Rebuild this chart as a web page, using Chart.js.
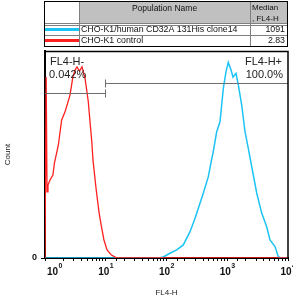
<!DOCTYPE html>
<html>
<head>
<meta charset="utf-8">
<script src="https://cdn.jsdelivr.net/npm/chart.js@4"></script>
<style>
  html, body { margin: 0; padding: 0; background: #fff; }
  canvas { display: block; }
</style>
</head>
<body>
<canvas id="histo" width="293" height="299"></canvas>
<script>
// FL4-H histogram data
const redX = [1, 1.045, 1.08, 1.12, 1.21, 1.35, 1.43, 1.66, 1.88, 2.13, 2.58, 2.86, 3.12, 3.36, 3.70, 4.06, 4.55, 5.16, 5.51, 5.9, 6.17, 6.91, 7.74, 8.51, 9.35, 10.5, 12.4, 14.8, 18.5, 10000];
const redY = [0, 87.4, 31.9, 35.3, 37.7, 40.1, 45.9, 54.6, 66.7, 70.5, 78.7, 87.0, 90.8, 92.3, 90.3, 92.3, 87.0, 75.5, 65.8, 56, 47.3, 33.8, 22.2, 15.0, 8.7, 3.9, 1.4, 0.2, 0, 0];
const blueX = [1, 72.4, 88.6, 114, 147, 189, 244, 295, 356, 403, 488, 550, 589, 670, 760, 862, 953, 1040, 1153, 1244, 1394, 1521, 1730, 1960, 2220, 2414, 3055, 3690, 4460, 5054, 6109, 6920, 7670, 10000];
const blueY = [0, 0, 0.5, 2.3, 3.9, 6.3, 12.7, 19.2, 26.4, 31.3, 39.3, 47.3, 51.4, 61.0, 65.8, 82.0, 89.9, 94.5, 90.8, 87.4, 89.2, 83.6, 73.9, 61.0, 53.0, 47.3, 31.4, 21.7, 15.1, 8.7, 5.5, 0.6, 0, 0];

// legend table
const popNames = ['CHO-K1/human CD32A 131His clone14', 'CHO-K1 control'];
const popMedians = ['1091', '2.83'];
const popColors = ['#1cc3f5', '#ff1f1f'];

// gates
const gateNames = ['FL4-H-', 'FL4-H+'];
const gatePcts = ['0.042%', '100.0%'];
const gateLo = [1, 9.72];
const gateHi = [9.72, 10000];
const gateLevel = [79.7, 84.5];

// axis labels
const decades = [1, 10, 100, 1000, 10000];
const decadeExp = ['0', '1', '2', '3', '4'];

const FONT = '"Liberation Sans", Arial, sans-serif';

function pts(xs, ys) {
    return xs.map((x, i) => ({ x: x, y: ys[i] }));
}

const tablePlugin = {
    id: 'popTable',
    afterDraw(chart) {
        const ctx = chart.ctx;
        const L = 44, c1 = 79, c2 = 250, R = 287;
        const rows = [1, 23, 35, 46];
        ctx.save();
        // header background
        ctx.fillStyle = '#c0c0c0';
        ctx.fillRect(c1, rows[0], R - c1, rows[1] - rows[0]);
        // inner lines
        ctx.strokeStyle = '#808080';
        ctx.lineWidth = 1;
        ctx.beginPath();
        [rows[1], rows[2]].forEach(y => { ctx.moveTo(L, y + 0.5); ctx.lineTo(R, y + 0.5); });
        ctx.moveTo(L, rows[1] + 2.5); ctx.lineTo(R, rows[1] + 2.5);
        [c1, c2].forEach(x => { ctx.moveTo(x + 0.5, rows[0]); ctx.lineTo(x + 0.5, rows[3]); });
        ctx.stroke();
        ctx.strokeStyle = '#000';
        ctx.strokeRect(L + 0.5, rows[0] + 0.5, R - L, rows[3] - rows[0]);

        // header text
        ctx.fillStyle = '#111';
        ctx.textBaseline = 'middle';
        ctx.font = '8.5px ' + FONT;
        ctx.textAlign = 'center';
        ctx.fillText('Population Name', (c1 + c2) / 2, 9);
        ctx.textAlign = 'left';
        ctx.font = '8px ' + FONT;
        ctx.fillText('Median', c2 + 2, 8);
        ctx.fillText(', FL4-H', c2 + 2, 19);

        // rows
        popNames.forEach((name, i) => {
            const yMid = i === 0 ? 30 : 41;
            ctx.strokeStyle = popColors[i];
            ctx.lineWidth = 3;
            ctx.beginPath();
            ctx.moveTo(L + 1, yMid - 0.5);
            ctx.lineTo(c1, yMid - 0.5);
            ctx.stroke();
            ctx.fillStyle = '#111';
            ctx.font = '8.8px ' + FONT;
            ctx.textAlign = 'left';
            ctx.fillText(name, c1 + 2, yMid);
            ctx.textAlign = 'right';
            ctx.fillText(popMedians[i], R - 2, yMid);
        });
        ctx.restore();
    }
};

const gatePlugin = {
    id: 'gates',
    afterDatasetsDraw(chart) {
        const ctx = chart.ctx;
        const xs = chart.scales.x, ys = chart.scales.y;
        const area = chart.chartArea;
        ctx.save();
        ctx.strokeStyle = '#6e6e6e';
        ctx.lineWidth = 1;
        gateNames.forEach((g, i) => {
            const x0 = xs.getPixelForValue(gateLo[i]);
            const x1 = xs.getPixelForValue(gateHi[i]);
            const y = Math.round(ys.getPixelForValue(gateLevel[i])) + 0.5;
            ctx.beginPath();
            ctx.moveTo(x0, y); ctx.lineTo(x1, y);
            const tx = Math.round(i === 0 ? x1 : x0) + 0.5;
            ctx.moveTo(tx, y - 4); ctx.lineTo(tx, y + 4);
            ctx.stroke();
        });
        // gate labels
        ctx.fillStyle = '#222';
        ctx.font = '11px ' + FONT;
        ctx.textBaseline = 'middle';
        ctx.textAlign = 'left';
        ctx.fillText(gateNames[0], area.left + 5, 62);
        ctx.fillText(gatePcts[0], area.left + 4, 75);
        ctx.textAlign = 'right';
        ctx.fillText(gateNames[1], area.right - 6, 62);
        ctx.fillText(gatePcts[1], area.right - 5, 75);

        // frame top / right
        ctx.strokeStyle = '#000';
        ctx.lineWidth = 1.5;
        ctx.beginPath();
        ctx.moveTo(area.left, area.top + 0.5);
        ctx.lineTo(area.right, area.top + 0.5);
        ctx.lineTo(area.right, area.bottom);
        ctx.stroke();
        ctx.restore();
    },
    afterDraw(chart) {
        // decade labels 10^n
        const ctx = chart.ctx;
        const xs = chart.scales.x;
        const area = chart.chartArea;
        ctx.save();
        ctx.fillStyle = '#111';
        ctx.textBaseline = 'middle';
        ctx.textAlign = 'left';
        decades.forEach((v, i) => {
            const px = xs.getPixelForValue(v);
            ctx.font = 'bold 10px ' + FONT;
            const wBase = ctx.measureText('10').width;
            ctx.font = 'bold 7px ' + FONT;
            const wExp = ctx.measureText(decadeExp[i]).width;
            let left = px - (wBase + wExp) / 2;
            if (left < area.left + 2) left = area.left + 2;
            ctx.font = 'bold 10px ' + FONT;
            ctx.fillText('10', left, 272);
            ctx.font = 'bold 7px ' + FONT;
            ctx.fillText(decadeExp[i], left + wBase + 0.5, 266);
        });
        ctx.restore();
    }
};

new Chart(document.getElementById('histo'), {
    type: 'line',
    data: {
        datasets: [
            {
                label: popNames[1],
                data: pts(redX, redY),
                borderColor: popColors[1],
                borderWidth: 1.3,
                pointRadius: 0,
                tension: 0,
                fill: false
            },
            {
                label: popNames[0],
                data: pts(blueX, blueY),
                borderColor: popColors[0],
                borderWidth: 1.5,
                pointRadius: 0,
                tension: 0,
                fill: false
            }
        ]
    },
    options: {
        responsive: false,
        animation: false,
        devicePixelRatio: 1,
        layout: { padding: { top: 51, right: 5, left: 0, bottom: 0 } },
        plugins: { legend: { display: false }, tooltip: { enabled: false } },
        scales: {
            x: {
                type: 'logarithmic',
                min: 1,
                max: 10000,
                afterFit: s => { s.height = 41; },
                grid: { drawOnChartArea: false, drawTicks: true, tickLength: 3, color: '#000', lineWidth: 1 },
                border: { display: true, color: '#000', width: 2 },
                ticks: { display: false },
                title: {
                    display: true,
                    text: 'FL4-H',
                    color: '#222',
                    font: { family: FONT, size: 8 },
                    padding: { top: 0, bottom: 1.2 }
                }
            },
            y: {
                type: 'linear',
                min: 0,
                max: 100,
                afterFit: s => { s.width = 45; },
                afterBuildTicks: s => { s.ticks = [{ value: 0 }]; },
                grid: { drawOnChartArea: false, drawTicks: true, tickLength: 4, color: '#000' },
                border: { display: true, color: '#000', width: 2 },
                ticks: {
                    color: '#111',
                    padding: 4,
                    font: { family: FONT, size: 9, weight: 'bold' },
                    callback: v => String(v)
                },
                title: {
                    display: true,
                    text: 'Count',
                    color: '#222',
                    font: { family: FONT, size: 8 },
                    padding: { top: 3.2, bottom: 0 }
                }
            }
        }
    },
    plugins: [tablePlugin, gatePlugin]
});
</script>
</body>
</html>
